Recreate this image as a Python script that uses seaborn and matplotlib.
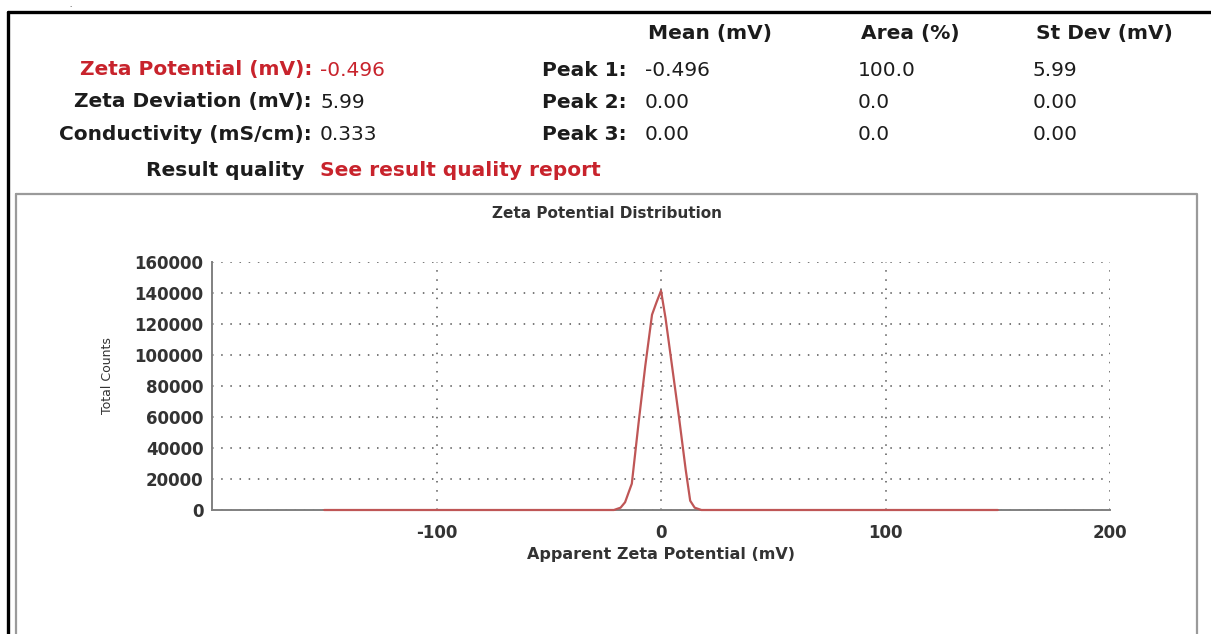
import matplotlib
matplotlib.use("Agg")
import matplotlib.pyplot as plt
import seaborn as sns
from matplotlib.lines import Line2D
from matplotlib.ticker import FixedLocator, MultipleLocator

# distribution
zeta_mv = [-150, -21, -18, -16, -13, -10, -7, -4, -2, 0, 2, 5, 8, 11, 13, 15, 18, 150]
total_counts = [0, 0, 1500, 5000, 17000, 56000, 93000, 126000, 134000, 141500,
                124000, 92000, 60000, 26000, 6000, 1500, 0, 0]

summary_labels = ["Zeta Potential (mV):", "Zeta Deviation (mV):", "Conductivity (mS/cm):"]
summary_values = ["-0.496", "5.99", "0.333"]
col_headers = ["Mean (mV)", "Area (%)", "St Dev (mV)"]
peak_labels = ["Peak 1:", "Peak 2:", "Peak 3:"]
peak_mean = ["-0.496", "0.00", "0.00"]
peak_area = ["100.0", "0.0", "0.0"]
peak_stdev = ["5.99", "0.00", "0.00"]

W, H = 1211, 634
RED = "#c8232c"
INK = "#1c1c1c"

sns.set_style("white")
plt.rcParams["font.family"] = ["DejaVu Sans"]
plt.rcParams["axes.unicode_minus"] = False

fig = plt.figure(figsize=(W / 100, H / 100), dpi=100)


def fx(x):
    return x / W


def fy(y):
    return 1 - y / H


# frames
fig.add_artist(Line2D([fx(8), 1], [fy(12), fy(12)], color="black", lw=2.4, transform=fig.transFigure))
fig.add_artist(Line2D([fx(8), fx(8)], [fy(12), 0], color="black", lw=2.4, transform=fig.transFigure))
fig.add_artist(Line2D([fx(16), fx(1197), fx(1197)], [fy(194), fy(194), 0], color="#9a9a9a", lw=1.6,
                      transform=fig.transFigure))
fig.add_artist(Line2D([fx(16), fx(16)], [fy(194), 0], color="#9a9a9a", lw=1.6, transform=fig.transFigure))
fig.text(fx(70), fy(7), ".", fontsize=5, color=INK, ha="center", va="baseline")

# header block
hsize = 14.5
rows_y = [70, 102, 135]
col_x = [645, 858, 1033]
for x, t in zip(col_x, col_headers):
    fig.text(fx(x + 3), fy(33), t, fontsize=hsize, fontweight="bold", color=INK, va="center")
for i, y in enumerate(rows_y):
    c = RED if i == 0 else INK
    fig.text(fx(312), fy(y), summary_labels[i], fontsize=hsize, fontweight="bold", color=c,
             ha="right", va="center")
    fig.text(fx(320), fy(y), summary_values[i], fontsize=hsize, color=c, va="center")
    fig.text(fx(627), fy(y), peak_labels[i], fontsize=hsize, fontweight="bold", color=INK,
             ha="right", va="center")
    for x, col in zip(col_x, [peak_mean, peak_area, peak_stdev]):
        fig.text(fx(x), fy(y), col[i], fontsize=hsize, color=INK, va="center")
fig.text(fx(304), fy(170), "Result quality", fontsize=hsize, fontweight="bold", color=INK,
         ha="right", va="center")
fig.text(fx(320), fy(170), "See result quality report", fontsize=hsize, fontweight="bold",
         color=RED, va="center")

# chart
ax = fig.add_axes([fx(212), fy(510), (1110 - 212) / W, (510 - 262) / H])
sns.lineplot(x=zeta_mv, y=total_counts, ax=ax, color="#bf5656", lw=1.6, zorder=4, clip_on=False)
ax.set_xlim(-200, 200)
ax.set_ylim(0, 160000)
ax.xaxis.set_major_locator(FixedLocator([-100, 0, 100, 200]))
ax.xaxis.set_minor_locator(FixedLocator([-150, -50, 50, 150]))
ax.yaxis.set_major_locator(MultipleLocator(20000))
ax.yaxis.set_minor_locator(MultipleLocator(10000))
ax.grid(True, which="major", color="#555555", lw=1.1, linestyle=(0, (1, 5)))
for s in ["top", "right"]:
    ax.spines[s].set_visible(False)
for s in ["left", "bottom"]:
    ax.spines[s].set_color("#808080")
    ax.spines[s].set_linewidth(1.4)
ax.tick_params(which="both", direction="inout", color="#666666", width=1)
ax.tick_params(which="major", length=8)
ax.tick_params(which="minor", length=6)
ax.tick_params(axis="y", pad=2, labelsize=12, labelcolor="#333333")
ax.tick_params(axis="x", pad=6, labelsize=12, labelcolor="#333333")
for lab in ax.get_xticklabels() + ax.get_yticklabels():
    lab.set_fontweight("bold")

ax.set_xlabel("Apparent Zeta Potential (mV)", fontsize=11.5, fontweight="bold", color="#333333")
ax.xaxis.set_label_coords(0.4999, -(547 - 510) / 248)
ax.set_ylabel("Total Counts", fontsize=9, color="#333333",
              family=["Liberation Sans Narrow", "DejaVu Sans"])
ax.yaxis.set_label_coords((114 - 212) / 898, (510 - 376) / 248)

fig.text(fx(607), fy(214), "Zeta Potential Distribution", fontsize=11, fontweight="bold",
         color="#333333", ha="center", va="center")

fig.savefig("out.png", dpi=100)
